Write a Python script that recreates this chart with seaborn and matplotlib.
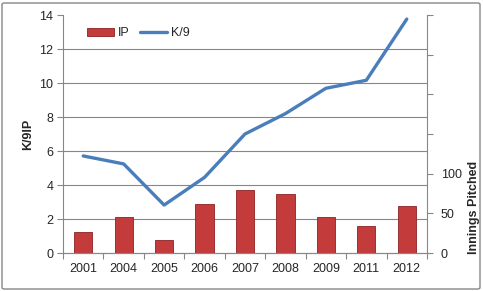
import matplotlib
matplotlib.use("Agg")
import matplotlib.pyplot as plt
import seaborn as sns
import pandas as pd
from matplotlib.ticker import MultipleLocator, FixedLocator, FuncFormatter
from matplotlib.patches import FancyBboxPatch, Patch
from matplotlib.lines import Line2D

years = ["2001", "2004", "2005", "2006", "2007", "2008", "2009", "2011", "2012"]
ip = [27.0, 45.7, 16.3, 62.0, 79.7, 74.7, 45.3, 33.7, 59.3]
k9 = [5.71, 5.24, 2.82, 4.45, 7.0, 8.2, 9.69, 10.16, 13.76]
ip_labels = {0: "0", 50: "50", 100: "100"}

df = pd.DataFrame({"Year": years, "IP": ip, "K/9": k9})

sns.set_style("white")
plt.rcParams["font.family"] = ["Liberation Sans", "DejaVu Sans"]

fig = plt.figure(figsize=(4.83, 2.91), dpi=100)
ax1 = fig.add_axes([63 / 483, 1 - 253 / 291, (427 - 63) / 483, (253 - 15) / 291])
ax2 = ax1.twinx()

grid_c = "#878787"
bar_c = "#C43B3B"
line_c = "#4A7EBB"

# bars on IP axis (behind)
sns.barplot(data=df, x="Year", y="IP", ax=ax2, color=bar_c, width=0.45,
            saturation=1, edgecolor="#8E2222", linewidth=0.6, zorder=3)
ax2.set_ylim(0, 300)
ax2.yaxis.set_major_locator(MultipleLocator(50))
ax2.yaxis.set_major_formatter(FuncFormatter(lambda v, p: ip_labels.get(int(round(v)), "")))
ax2.yaxis.set_minor_locator(MultipleLocator(300 / 7))
ax2.grid(which="minor", axis="y", color=grid_c, linewidth=0.8, zorder=0)
ax2.set_axisbelow(True)
ax2.tick_params(axis="y", which="minor", length=0)
ax2.tick_params(axis="y", which="major", length=4, width=0.8, color=grid_c,
                labelsize=9, pad=6, direction="out")
ax2.set_ylabel("Innings Pitched", fontsize=9, fontweight="bold")
ax2.yaxis.set_label_coords(1.112, 0.19)

# line on K/9 axis (front)
sns.lineplot(data=df, x="Year", y="K/9", ax=ax1, color=line_c, linewidth=2.4,
             sort=False, zorder=5)
ax1.set_ylim(0, 14)
ax1.set_xlim(-0.5, len(years) - 0.5)
ax2.set_xlim(-0.5, len(years) - 0.5)
ax1.yaxis.set_major_locator(MultipleLocator(2))
ax1.tick_params(axis="y", length=4, width=0.8, color=grid_c, labelsize=9, pad=3,
                direction="out", left=True)
ax1.set_ylabel("K/9IP", fontsize=9, fontweight="bold")
ax1.yaxis.set_label_coords(-0.08, 0.5)
ax1.set_xlabel("")
ax2.set_xlabel("")

ax1.set_zorder(ax2.get_zorder() + 1)
ax1.patch.set_visible(False)

# x ticks: labels at categories, tick marks at boundaries
ax1.tick_params(axis="x", which="major", length=0, labelsize=9, pad=7)
ax1.xaxis.set_minor_locator(FixedLocator([i - 0.5 for i in range(len(years) + 1)]))
ax1.tick_params(axis="x", which="minor", length=4, width=0.8, color=grid_c,
                direction="out", bottom=True)
ax2.tick_params(axis="x", which="both", length=0)

for a in (ax1, ax2):
    for s in a.spines.values():
        s.set_color(grid_c)
        s.set_linewidth(0.8)
    a.spines["top"].set_visible(False)
ax1.spines["right"].set_visible(False)
ax2.spines["left"].set_visible(False)

handles = [Patch(facecolor=bar_c, edgecolor="#8E2222", linewidth=0.6),
           Line2D([0], [0], color=line_c, linewidth=2.4)]
ax1.legend(handles, ["IP", "K/9"], loc="upper left", bbox_to_anchor=(0.035, 0.995),
           ncol=2, frameon=False, fontsize=9, handlelength=2.2, handleheight=0.55,
           columnspacing=0.8, handletextpad=0.3)

border = FancyBboxPatch((2 / 483, 2 / 291), 478 / 483, 286 / 291,
                        boxstyle="round,pad=0,rounding_size=0.005",
                        transform=fig.transFigure, fill=False,
                        edgecolor=grid_c, linewidth=1.0)
fig.patches.append(border)

fig.savefig("out.png", dpi=100)
